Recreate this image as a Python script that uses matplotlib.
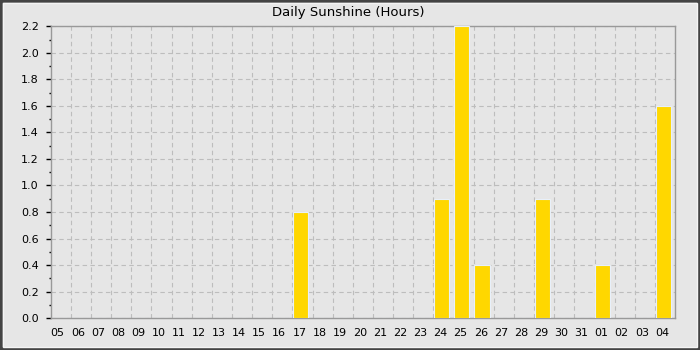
import matplotlib
matplotlib.use("Agg")
import matplotlib.pyplot as plt
import numpy as np
from matplotlib.ticker import MultipleLocator, FixedLocator

days = ["05", "06", "07", "08", "09", "10", "11", "12", "13", "14", "15", "16",
        "17", "18", "19", "20", "21", "22", "23", "24", "25", "26", "27", "28",
        "29", "30", "31", "01", "02", "03", "04"]
sunshine = [0, 0, 0, 0, 0, 0, 0, 0, 0, 0, 0, 0,
            0.8, 0, 0, 0, 0, 0, 0, 0.9, 2.2, 0.4, 0, 0,
            0.9, 0, 0, 0.4, 0, 0, 1.6]

BG = "#e6e6e6"
fig = plt.figure(figsize=(7, 3.5), dpi=100, facecolor=BG)
ax = fig.add_axes([0.0724, 0.091, 0.8920, 0.834])
ax.set_facecolor(BG)

x = np.arange(len(days))
# bars sit near the left of each day slot
ax.bar(x - 0.46, sunshine, width=0.75, align="edge", color="#ffd700",
       edgecolor="#e8f0fa", linewidth=0.8, zorder=3)

ax.set_xlim(-0.5, len(days) - 0.5)
ax.set_ylim(0, 2.2)
ax.set_xticks(x - 0.15)
ax.set_xticklabels(days)
ax.xaxis.set_minor_locator(FixedLocator(np.arange(0.5, len(days) - 1, 1)))
ax.yaxis.set_major_locator(MultipleLocator(0.2))
ax.yaxis.set_minor_locator(MultipleLocator(0.1))
ax.yaxis.set_major_formatter(matplotlib.ticker.FormatStrFormatter("%.1f"))

ax.tick_params(axis="x", which="both", length=0, labelsize=8, pad=7)
ax.tick_params(axis="y", which="major", length=3.6, width=1, labelsize=8, pad=5)
ax.tick_params(axis="y", which="minor", length=1.8, width=1)

ax.grid(axis="x", which="minor", color="#bdbdbd", linestyle=(0, (4, 3)), linewidth=0.8, zorder=0)
ax.grid(axis="y", which="major", color="#bdbdbd", linestyle=(0, (4, 3)), linewidth=0.8, zorder=0)

for s in ax.spines.values():
    s.set_color("#999999")
    s.set_linewidth(1)

fig.text(0.497, 0.965, "Daily Sunshine (Hours)", ha="center", va="center", fontsize=9.5)

# outer frame
fig.patches.append(plt.Rectangle((0, 0), 1, 1, transform=fig.transFigure,
                                 fill=False, edgecolor="#444444", linewidth=4))
fig.patches.append(plt.Rectangle((0.004, 0.008), 0.992, 0.984, transform=fig.transFigure,
                                 fill=False, edgecolor="#f4f4f4", linewidth=1))

fig.savefig("out.png", dpi=100, facecolor=BG)
